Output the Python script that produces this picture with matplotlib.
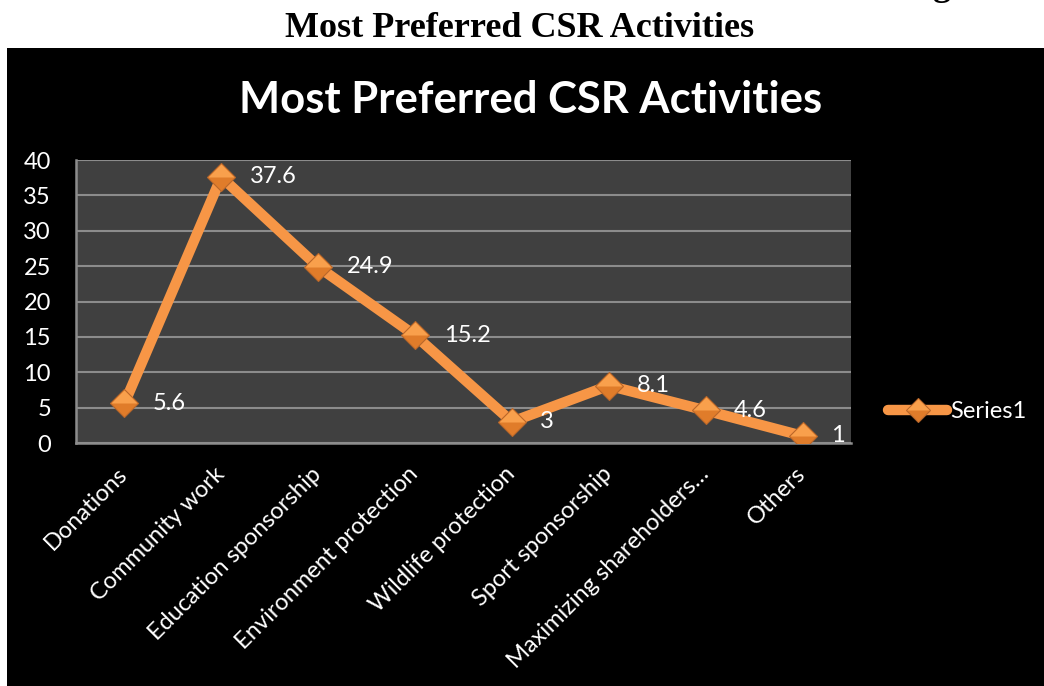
import matplotlib.pyplot as plt
from matplotlib.lines import Line2D
from matplotlib.patches import Rectangle

# data
categories = [
    "Donations",
    "Community work",
    "Education sponsorship",
    "Environment protection",
    "Wildlife protection",
    "Sport sponsorship",
    "Maximizing shareholders…",
    "Others",
]
values = [5.6, 37.6, 24.9, 15.2, 3, 8.1, 4.6, 1]
value_labels = ["5.6", "37.6", "24.9", "15.2", "3", "8.1", "4.6", "1"]
y_ticks = [0, 5, 10, 15, 20, 25, 30, 35, 40]

ORANGE = "#F79646"
SANS = "Lato"
FS = 17
W, H = 1044, 686

fig = plt.figure(figsize=(W / 100, H / 100), dpi=100, facecolor="white")

# black chart area below the page heading
fig.patches.append(
    Rectangle((7 / W, 0), 1 - 7 / W, 1 - 48 / H, transform=fig.transFigure,
              facecolor="black", edgecolor="none", zorder=-10)
)

# page heading (serif, from the document around the chart)
fig.text(520 / W, 1 - 37 / H, "Most Preferred CSR Activities",
         family="Liberation Serif", weight="bold", fontsize=26,
         ha="center", va="baseline", color="black")
# tail of a letter from the line above, cut by the crop
fig.text(942 / W, 1 + 5 / H, "g", family="Liberation Serif", weight="bold",
         fontsize=26, ha="center", va="baseline", color="black")

# chart title
fig.text(531 / W, 1 - 113 / H, "Most Preferred CSR Activities",
         family=SANS, weight="bold", fontsize=31.4, ha="center",
         va="baseline", color="white")

ax = fig.add_axes([76 / W, 1 - 443 / H, (851 - 76) / W, (443 - 160) / H])
ax.set_facecolor("#404040")

x = list(range(len(categories)))
ax.plot(x, values, color=ORANGE, lw=7.5, solid_capstyle="round", zorder=3,
        label="Series1")
# diamond markers, darker base with a lighter upper half
ax.plot(x, values, ls="none", marker="D", ms=14, mfc="#E07C2A",
        mec="#B9672A", mew=0.8, zorder=4)
ax.plot(x, values, ls="none", marker=[(-1, 0), (0, 1), (1, 0)], ms=18.8,
        mfc="#F9A04C", mec="none", zorder=5)

for xi, v, lab in zip(x, values, value_labels):
    ax.annotate(lab, (xi, v), xytext=(20.5, 0), textcoords="offset points",
                ha="left", va="center", color="white", fontsize=FS,
                family=SANS, zorder=6)

ax.set_xlim(-0.5, len(categories) - 0.5)
ax.set_ylim(0, 40)
ax.set_yticks(y_ticks)
ax.set_yticklabels([str(t) for t in y_ticks], family=SANS, fontsize=FS,
                   color="white")
ax.set_xticks(x)
ax.set_xticklabels(categories, rotation=45, ha="right", va="center",
                   rotation_mode="anchor", family=SANS, fontsize=FS,
                   color="white")
ax.tick_params(axis="y", length=0, pad=18)
ax.tick_params(axis="x", length=0, pad=20)

ax.grid(axis="y", color="#8C8C8C", lw=1.5, zorder=1)
ax.set_axisbelow(True)
for side in ["top", "right"]:
    ax.spines[side].set_visible(False)
for side in ["left", "bottom"]:
    ax.spines[side].set_color("#8C8C8C")
    ax.spines[side].set_linewidth(1.8)

# legend entry built from the line plus diamond markers
handle = (
    Line2D([], [], color=ORANGE, lw=7.5, solid_capstyle="round"),
    Line2D([], [], ls="none", marker="D", ms=12, mfc="#E07C2A", mec="#B9672A",
           mew=0.8),
    Line2D([], [], ls="none", marker=[(-1, 0), (0, 1), (1, 0)], ms=16.2,
           mfc="#F9A04C", mec="none"),
)
leg = fig.legend([handle], ["Series1"], loc="center left",
                 bbox_to_anchor=(888 / W, 1 - 412 / H), frameon=False,
                 borderpad=0, borderaxespad=0, handlelength=2.5,
                 handletextpad=0.12, prop={"family": SANS, "size": FS})
for t in leg.get_texts():
    t.set_color("white")

fig.savefig("out.png", dpi=100, facecolor="white")
